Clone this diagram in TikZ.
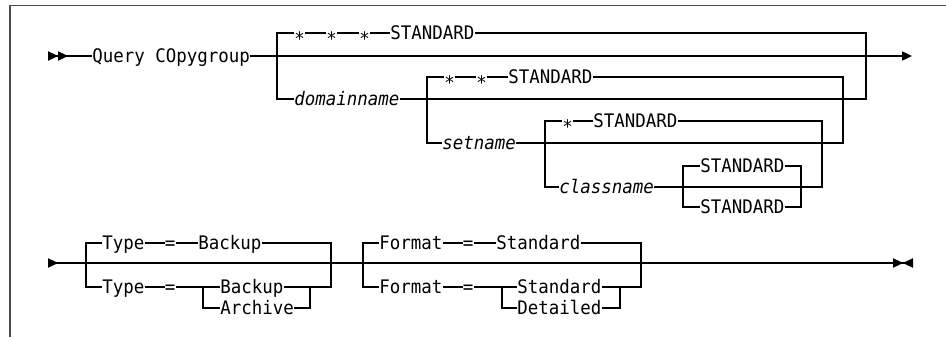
\documentclass[tikz,border=0pt]{standalone}
\usepackage{fontspec}
\setmonofont{DejaVu Sans Mono}[ItalicFont={DejaVu Sans Mono Oblique}, FakeStretch=0.935]
\usetikzlibrary{arrows.meta}
\begin{document}
\begin{tikzpicture}[
  x=0.75pt, y=-0.75pt,
  rail/.style={line width=0.8pt, black},
  frame/.style={line width=1.1pt, black!70},
  kw/.style={font=\ttfamily\fontsize{14pt}{14pt}\selectfont, inner xsep=0pt, inner ysep=0pt, text height=10.2pt, text depth=0pt, anchor=west},
  ast/.style={kw, text height=18.8pt},
  var/.style={kw, font=\ttfamily\itshape\fontsize{14pt}{14pt}\selectfont},
  rt/.tip={Triangle[length=7.5pt, width=7pt]}]
  \useasboundingbox (0,0) rectangle (946,337);
  \draw[frame] (10,337) -- (10,5.5) -- (946,5.5);
  % first line
  \coordinate (start) at (48,56);
  \coordinate (cont) at (912,56);
  \node[kw] (query) at (92,56) {Query COpygroup};
  \coordinate (ga) at (277,56);
  \coordinate (gb) at (866,56);
  \node[ast] (sa1) at (294,33) {*};
  \node[ast] (sa2) at (326,33) {*};
  \node[ast] (sa3) at (359,33) {*};
  \node[kw] (stda) at (390,33) {STANDARD};
  \node[var] (dom) at (294,99) {domainname};
  \coordinate (g2a) at (427,99);
  \coordinate (g2b) at (843,99);
  \node[ast] (sb1) at (444,77) {*};
  \node[ast] (sb2) at (476,77) {*};
  \node[kw] (stdb) at (508,77) {STANDARD};
  \node[var] (set) at (442,143) {setname};
  \coordinate (g3a) at (545,143);
  \coordinate (g3b) at (822,143);
  \node[ast] (sc1) at (562,121) {*};
  \node[kw] (stdc) at (593,121) {STANDARD};
  \node[var] (cls) at (559,187) {classname};
  \coordinate (g4a) at (683,187);
  \coordinate (g4b) at (801,187);
  \node[kw] (stdd) at (700,166) {STANDARD};
  \node[kw] (stde) at (700,207) {STANDARD};
  \draw[rail, {rt[reversed]rt[reversed]}-] (start) -- (query);
  \draw[rail, -{rt[]}] (query) -- (cont);
  \draw[rail] (ga) |- (sa1.west);
  \draw[rail] (sa1) -- (sa2) -- (sa3) -- (stda);
  \draw[rail] (stda.east) -| (gb);
  \draw[rail] (ga) |- (dom.west);
  \draw[rail] (dom.east) -| (gb);
  \draw[rail] (g2a) |- (sb1.west);
  \draw[rail] (sb1) -- (sb2) -- (stdb);
  \draw[rail] (stdb.east) -| (g2b);
  \draw[rail] (g2a) |- (set.west);
  \draw[rail] (set.east) -| (g2b);
  \draw[rail] (g3a) |- (sc1.west);
  \draw[rail] (sc1) -- (stdc);
  \draw[rail] (stdc.east) -| (g3b);
  \draw[rail] (g3a) |- (cls.west);
  \draw[rail] (cls.east) -| (g3b);
  \draw[rail] (g4a) |- (stdd.west);
  \draw[rail] (stdd.east) -| (g4b);
  \draw[rail] (g4a) |- (stde.west);
  \draw[rail] (stde.east) -| (g4b);
  % second line
  \coordinate (resume) at (48,263);
  \coordinate (stop) at (913,263);
  \coordinate (ta) at (86,263);
  \coordinate (tb) at (331,263);
  \node[kw] (typea) at (102,243) {Type};
  \node[kw] (eqa) at (164.5,243) {=};
  \node[kw] (bka) at (198,243) {Backup};
  \node[kw] (typeb) at (102,287) {Type};
  \node[kw] (eqb) at (164.5,287) {=};
  \coordinate (tia) at (203,287);
  \coordinate (tib) at (310,287);
  \node[kw] (bkb) at (220,287) {Backup};
  \node[kw] (arc) at (220,308) {Archive};
  \coordinate (fa) at (363,263);
  \coordinate (fb) at (641,263);
  \node[kw] (fmta) at (379,243) {Format};
  \node[kw] (eqc) at (462.5,243) {=};
  \node[kw] (sda) at (496,243) {Standard};
  \node[kw] (fmtb) at (379,287) {Format};
  \node[kw] (eqd) at (462.5,287) {=};
  \coordinate (fia) at (502,287);
  \coordinate (fib) at (620,287);
  \node[kw] (sdb) at (517,287) {Standard};
  \node[kw] (det) at (517,308) {Detailed};
  \draw[rail, {rt[reversed]}-{rt[]rt[reversed]}] (resume) -- (stop);
  \draw[rail] (ta) |- (typea.west);
  \draw[rail] (typea) -- (eqa) -- (bka);
  \draw[rail] (bka.east) -| (tb);
  \draw[rail] (ta) |- (typeb.west);
  \draw[rail] (typeb) -- (eqb) -- (bkb);
  \draw[rail] (bkb.east) -| (tb);
  \draw[rail] (tia) |- (arc.west);
  \draw[rail] (arc.east) -| (tib);
  \draw[rail] (fa) |- (fmta.west);
  \draw[rail] (fmta) -- (eqc) -- (sda);
  \draw[rail] (sda.east) -| (fb);
  \draw[rail] (fa) |- (fmtb.west);
  \draw[rail] (fmtb) -- (eqd) -- (sdb);
  \draw[rail] (sdb.east) -| (fb);
  \draw[rail] (fia) |- (det.west);
  \draw[rail] (det.east) -| (fib);
\end{tikzpicture}
\end{document}
